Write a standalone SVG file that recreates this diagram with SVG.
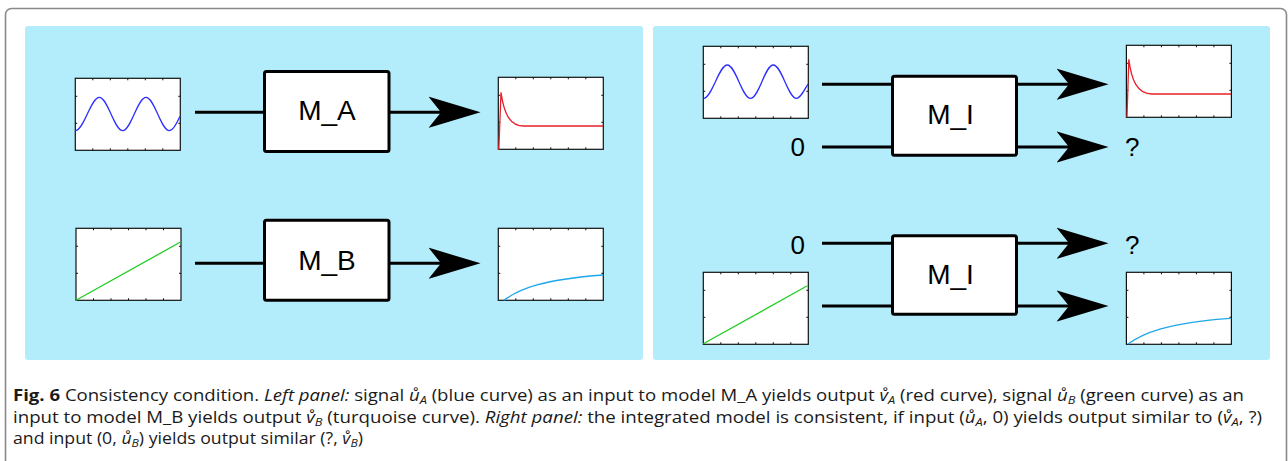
<svg xmlns="http://www.w3.org/2000/svg" xmlns:xlink="http://www.w3.org/1999/xlink" width="1288" height="461" viewBox="0 0 1288 461">
<style>
.panel{fill:#b3edfc}
.frame{fill:#ffffff;stroke:#8a8a8a;stroke-width:1.6}
.box{fill:#ffffff;stroke:#000000;stroke-width:3}
.lbl{font-family:"Liberation Sans",Arial,sans-serif;font-size:28px;fill:#000}
.sym{font-family:"Liberation Sans",Arial,sans-serif;font-size:26px;fill:#000}
.wire{stroke:#000;stroke-width:3;fill:none}
.cv{fill:none;stroke-width:1.3}
.cap{font-family:"Open Sans","Noto Sans",sans-serif;font-size:16px;fill:#1a1a1a}
.i{font-style:italic}
.sub{font-style:italic;font-size:11px}
</style>
<defs>
<marker id="head" markerUnits="userSpaceOnUse" markerWidth="52" markerHeight="32" viewBox="0 0 50 30" refX="12" refY="15" orient="auto">
<path d="M0,0 L50,15 L0,30 L12,15 Z" fill="#000"/>
</marker>
<g id="plot">
<rect x="0" y="0" width="105" height="72" fill="#fff" stroke="#111" stroke-width="1.2"/>
<path d="M0,18h2M0,45h2M105,18h-2M105,45h-2M17.5,0v2M35,0v2M52.5,0v2M70,0v2M87.5,0v2M17.5,72v-2M35,72v-2M52.5,72v-2M70,72v-2M87.5,72v-2" stroke="#111" stroke-width="1"/>
</g>
</defs>
<rect class="frame" x="5.5" y="8.5" width="1281" height="480" rx="6"/>
<rect class="panel" x="25" y="26" width="618" height="334" rx="3"/>
<rect class="panel" x="653" y="26" width="617" height="334" rx="3"/>

<g id="sig-uA-left">
<use xlink:href="#plot" x="75.3" y="78.3"/>
<path class="cv" stroke="#2f2fff" d="M75.3,130.7 C83.8,130.7 90.8,97.3 99.3,97.3 S114.2,130.7 122.65,130.7 S137.5,97.3 146,97.3 S160.9,130.7 169.35,130.7 C172.9,130.7 176.45,124.2 180,116.3"/>
</g>
<g id="model-MA">
<rect class="box" x="264.5" y="71.5" width="124.5" height="80" rx="2"/>
<text class="lbl" x="327" y="119.5" text-anchor="middle">M_A</text>
</g>
<g id="sig-vA-left">
<use xlink:href="#plot" x="498.3" y="77.3"/>
<path class="cv" stroke="#e8202a" d="M498.8,150 L501,92.3 C504,114 510,126 524,126 L603,126"/>
</g>

<g id="sig-uB-left">
<use xlink:href="#plot" x="76" y="228.3"/>
<path class="cv" stroke="#22cc22" d="M76,300.3 L180.5,242"/>
</g>
<g id="model-MB">
<rect class="box" x="264.5" y="220.2" width="124.5" height="80" rx="2"/>
<text class="lbl" x="327" y="269.5" text-anchor="middle">M_B</text>
</g>
<g id="sig-vB-left">
<use xlink:href="#plot" x="498.3" y="228.3"/>
<path class="cv" stroke="#1ea7e8" stroke-width="1.8" d="M503.8,300.3 C518,290 540,279.5 603.3,275"/>
</g>

<g id="sig-uA-right">
<use xlink:href="#plot" x="703.3" y="46.3"/>
<path class="cv" stroke="#2f2fff" d="M703.5,98.3 C711.9,98.3 718.9,65 727.3,65 S742.1,98.3 750.5,98.3 S764.9,65 773.3,65 S788.1,98.3 796.5,98.3 C800.1,98.3 803.8,91.2 808,84"/>
</g>
<g id="zero-top"><text class="sym" x="790.5" y="156">0</text></g>
<g id="model-MI-top">
<rect class="box" x="892.5" y="76.2" width="124" height="79" rx="2"/>
<text class="lbl" x="950.5" y="124" text-anchor="middle">M_I</text>
</g>
<g id="sig-vA-right">
<use xlink:href="#plot" x="1126.4" y="45.3"/>
<path class="cv" stroke="#e8202a" d="M1127,117 L1128.8,59.3 C1131.5,80 1137,94 1152,94 L1231,94"/>
</g>
<g id="q-top"><text class="sym" x="1125" y="156">?</text></g>

<g id="zero-bottom"><text class="sym" x="790.5" y="254">0</text></g>
<g id="model-MI-bottom">
<rect class="box" x="892.5" y="235.8" width="124" height="78.5" rx="2"/>
<text class="lbl" x="950.5" y="283.5" text-anchor="middle">M_I</text>
</g>
<g id="q-bottom"><text class="sym" x="1125" y="254">?</text></g>
<g id="sig-uB-right">
<use xlink:href="#plot" x="703.3" y="272.3"/>
<path class="cv" stroke="#22cc22" d="M703.3,343.8 L807.4,285.7"/>
</g>
<g id="sig-vB-right">
<use xlink:href="#plot" x="1126.4" y="272.3"/>
<path class="cv" stroke="#1ea7e8" stroke-width="1.8" d="M1128,344 C1142,334 1165,323 1230.5,318.3"/>
</g>

<g id="connectors">
<path class="wire" d="M195,112.3 H264"/>
<path class="wire" d="M390,112.3 H441" marker-end="url(#head)"/>
<path class="wire" d="M195,263.3 H264"/>
<path class="wire" d="M390,263.3 H441" marker-end="url(#head)"/>
<path class="wire" d="M822,84.3 H892"/>
<path class="wire" d="M822,147 H892"/>
<path class="wire" d="M1017,84.3 H1069" marker-end="url(#head)"/>
<path class="wire" d="M1017,147 H1069" marker-end="url(#head)"/>
<path class="wire" d="M822,243.3 H892"/>
<path class="wire" d="M822,306 H892"/>
<path class="wire" d="M1017,243.3 H1069" marker-end="url(#head)"/>
<path class="wire" d="M1017,306 H1069" marker-end="url(#head)"/>
</g>

<g id="caption">
<text class="cap" x="13" y="401" textLength="1231" lengthAdjust="spacingAndGlyphs"><tspan font-weight="bold">Fig. 6</tspan> Consistency condition. <tspan class="i">Left panel:</tspan> signal <tspan class="i">ů</tspan><tspan class="sub" dy="3">A</tspan><tspan dy="-3"> (blue curve) as an input to model M_A yields output </tspan><tspan class="i">v̊</tspan><tspan class="sub" dy="3">A</tspan><tspan dy="-3"> (red curve), signal </tspan><tspan class="i">ů</tspan><tspan class="sub" dy="3">B</tspan><tspan dy="-3"> (green curve) as an</tspan></text>
<text class="cap" x="13" y="422.7" textLength="1249" lengthAdjust="spacingAndGlyphs">input to model M_B yields output <tspan class="i">v̊</tspan><tspan class="sub" dy="3">B</tspan><tspan dy="-3"> (turquoise curve). </tspan><tspan class="i">Right panel:</tspan> the integrated model is consistent, if input (<tspan class="i">ů</tspan><tspan class="sub" dy="3">A</tspan><tspan dy="-3">, 0) yields output similar to (</tspan><tspan class="i">v̊</tspan><tspan class="sub" dy="3">A</tspan><tspan dy="-3">, ?)</tspan></text>
<text class="cap" x="13" y="444.4" textLength="350" lengthAdjust="spacingAndGlyphs">and input (0, <tspan class="i">ů</tspan><tspan class="sub" dy="3">B</tspan><tspan dy="-3">) yields output similar (?, </tspan><tspan class="i">v̊</tspan><tspan class="sub" dy="3">B</tspan><tspan dy="-3">)</tspan></text>
</g>
</svg>
